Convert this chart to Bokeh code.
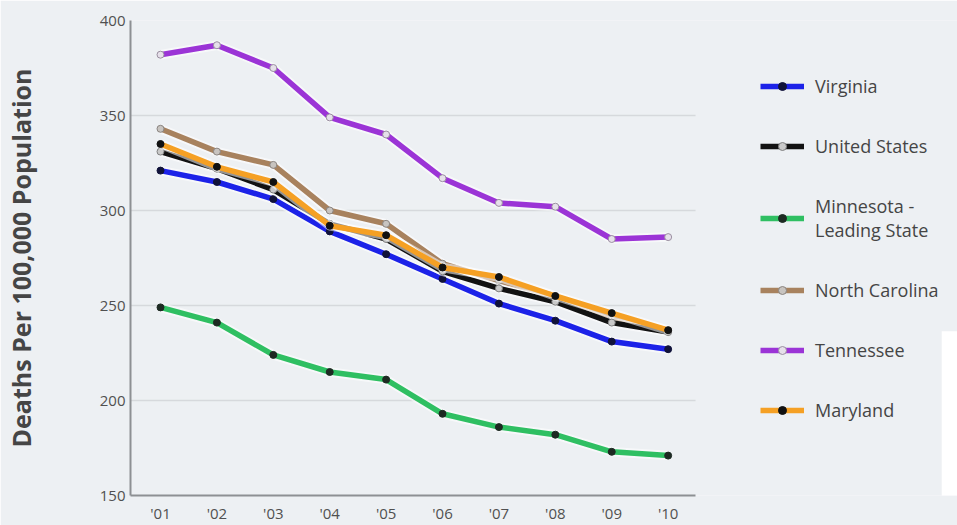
from bokeh.plotting import figure
from bokeh.models import Legend, LegendItem, FixedTicker
from bokeh.embed import file_html
from bokeh.resources import INLINE

years = [1, 2, 3, 4, 5, 6, 7, 8, 9, 10]
year_labels = ["'01", "'02", "'03", "'04", "'05", "'06", "'07", "'08", "'09", "'10"]
y_ticks = [150, 200, 250, 300, 350, 400]

virginia = [321, 315, 306, 289, 277, 264, 251, 242, 231, 227]
united_states = [331, 322, 311, 293, 285, 268, 259, 252, 241, 236]
minnesota = [249, 241, 224, 215, 211, 193, 186, 182, 173, 171]
north_carolina = [343, 331, 324, 300, 293, 272, 263, 255, 244, 237]
tennessee = [382, 387, 375, 349, 340, 317, 304, 302, 285, 286]
maryland = [335, 323, 315, 292, 287, 270, 265, 255, 246, 237]

series = [
    ("Tennessee", tennessee, "#9b34d6", "#e6e0ea", "#9a8fa0"),
    ("Minnesota -\nLeading State", minnesota, "#2fbf62", "#1d2a22", "#1d2a22"),
    ("Virginia", virginia, "#1c22e8", "#10123a", "#10123a"),
    ("North Carolina", north_carolina, "#a8825e", "#c8c4c0", "#8a8480"),
    ("United States", united_states, "#121212", "#c9c9c9", "#808080"),
    ("Maryland", maryland, "#f5a024", "#111111", "#111111"),
]
legend_order = ["Virginia", "United States", "Minnesota -\nLeading State",
                "North Carolina", "Tennessee", "Maryland"]

X0, X1, XEND = 0.468, 10.486, 15.13
BG = "#edf0f3"
p = figure(width=957, height=525, output_backend="svg", toolbar_location=None,
           x_range=(X0, XEND), y_range=(150, 400),
           min_border_left=130, min_border_right=0, min_border_top=20, min_border_bottom=28,
           background_fill_color=BG, border_fill_color=BG)
p.outline_line_color = None

# horizontal grid lines limited to the plotting area
grid_y = y_ticks[1:-1]
p.segment(x0=[X0] * len(grid_y), x1=[X1] * len(grid_y), y0=grid_y, y1=grid_y,
          line_color="#d6d9dc", line_width=1.5)

# white patch of the neighbouring page visible in the bottom-right corner
p.quad(left=[14.85], right=[XEND + 1], top=[236.5], bottom=[100],
       fill_color="white", line_color=None)

renderers = {}
for name, vals, col, mfill, mline in series:
    p.line(years, vals, line_color="white", line_width=9.5, line_alpha=0.55)
    l = p.line(years, vals, line_color=col, line_width=5.5)
    s = p.scatter(years, vals, size=7, fill_color=mfill, line_color=mline, line_width=1)
    renderers[name] = [l, s]

items = [LegendItem(label=n, renderers=renderers[n]) for n in legend_order]
legend = Legend(items=items, location=(630, 73), orientation="vertical",
                glyph_width=44, glyph_height=20, label_height=20, spacing=36,
                label_standoff=11, padding=0, margin=0,
                border_line_color=None, background_fill_alpha=0,
                label_text_font="Open Sans", label_text_font_size="18px",
                label_text_color="#454545")
p.add_layout(legend)

p.xaxis.ticker = FixedTicker(ticks=years)
p.xaxis.major_label_overrides = {y: lab for y, lab in zip(years, year_labels)}
p.xaxis.bounds = (X0, X1)
p.yaxis.ticker = FixedTicker(ticks=y_ticks)

for ax in (p.xaxis, p.yaxis):
    ax.axis_line_color = "#8d9093"
    ax.axis_line_width = 2
    ax.major_tick_line_color = None
    ax.minor_tick_line_color = None
    ax.major_tick_out = 0
    ax.major_tick_in = 0
    ax.minor_tick_out = 0
    ax.minor_tick_in = 0
    ax.major_label_text_font = "Open Sans"
    ax.major_label_text_color = "#505050"

p.xaxis.major_label_text_font_size = "15px"
p.yaxis.major_label_text_font_size = "15px"
p.xaxis.major_label_standoff = 7
p.yaxis.major_label_standoff = 5
p.yaxis.axis_label = "Deaths Per 100,000 Population"
p.yaxis.axis_label_text_font = "Open Sans"
p.yaxis.axis_label_text_font_style = "bold"
p.yaxis.axis_label_text_font_size = "25px"
p.yaxis.axis_label_text_color = "#454545"
p.yaxis.axis_label_standoff = 59

p.xgrid.grid_line_color = None
p.ygrid.grid_line_color = None

open("out.html", "w").write(file_html(p, INLINE))
